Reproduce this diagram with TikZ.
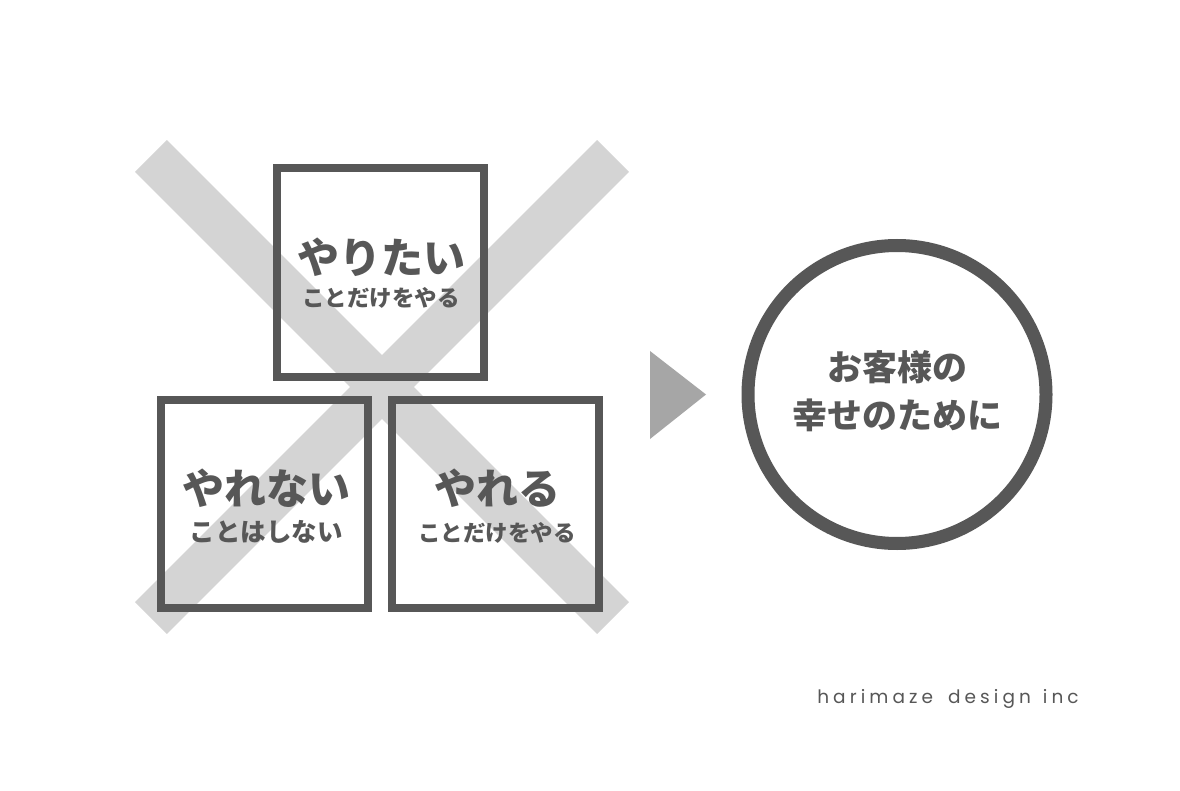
\documentclass[tikz,border=0pt]{standalone}
\usepackage{fontspec}
\newfontfamily\jp{Noto Sans CJK JP}
\newfontfamily\logofont[LetterSpace=22]{Poppins}
\definecolor{ink}{HTML}{575757}
\definecolor{band}{HTML}{D4D4D4}
\definecolor{tri}{HTML}{A6A6A6}
\tikzset{
  boxnode/.style={draw=ink, line width=8pt, minimum width=207pt, minimum height=208pt, inner sep=0pt},
  bigtext/.style={text=ink, font=\jp\bfseries\fontsize{42}{46}\selectfont, inner sep=0pt},
  smalltext/.style={text=ink, font=\jp\bfseries\fontsize{22.5}{26}\selectfont, inner sep=0pt},
  bandline/.style={draw=band, line width=45pt},
  circtext/.style={text=ink, font=\jp\bfseries\fontsize{35}{40}\selectfont, inner sep=0pt},
}
\begin{document}
\begin{tikzpicture}[x=1pt,y=-1pt]
\useasboundingbox[fill=white] (0,0) rectangle (1180,791);
% cross band
\coordinate (tl) at (151,156);
\coordinate (br) at (613,618);
\coordinate (tr) at (613,156);
\coordinate (bl) at (151,618);
\draw[bandline] (tl) -- (br);
\draw[bandline] (tr) -- (bl);
% boxes
\node[boxnode] (top) at (380,272.5) {};
\node[boxnode] (left) at (264.5,504) {};
\node[boxnode] (right) at (495,504) {};
\node[bigtext] (t1) at (381,257) {やりたい};
\node[smalltext] (t2) at (381,298) {ことだけをやる};
\node[bigtext] (l1) at (266,488) {やれない};
\node[smalltext, font=\jp\bfseries\fontsize{25.5}{28}\selectfont] (l2) at (266,532) {ことはしない};
\node[bigtext] (r1) at (497,488) {やれる};
\node[smalltext] (r2) at (497,533) {ことだけをやる};
% triangle
\coordinate (ta) at (650,351);
\coordinate (tb) at (650,439);
\coordinate (tc) at (706,394.5);
\fill[tri] (ta) -- (tc) -- (tb) -- cycle;
% circle
\node[circle, draw=ink, line width=13pt, minimum size=298pt, inner sep=0pt] (goal) at (897,394.5) {};
\node[circtext] (g1) at (897,367) {お客様の};
\node[circtext] (g2) at (897,415) {幸せのために};
% footer
\node[text=ink, font=\logofont\fontsize{18.5}{22}\selectfont, inner sep=0pt] (logo) at (948,699) {harimaze\hspace{6pt} design\hspace{3pt} inc};
\end{tikzpicture}
\end{document}
